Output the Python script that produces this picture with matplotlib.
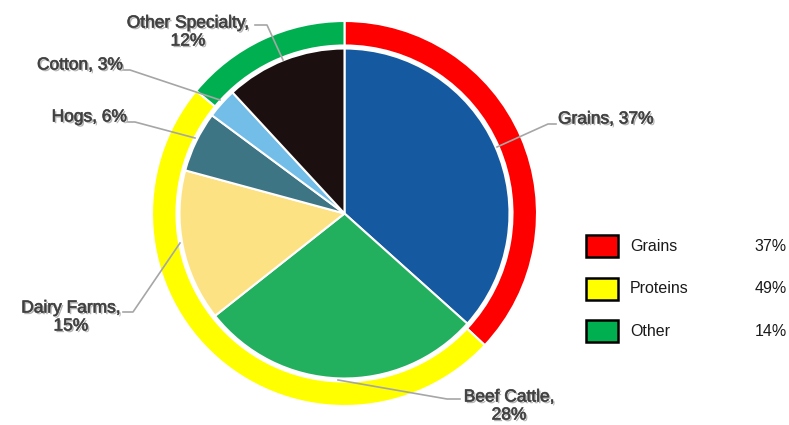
import matplotlib.pyplot as plt
import matplotlib.patheffects as pe
from matplotlib.patches import Rectangle

plt.rcParams['font.family'] = ['Liberation Sans', 'DejaVu Sans']

# Data
segments = ['Grains', 'Beef Cattle', 'Dairy Farms', 'Hogs', 'Cotton', 'Other Specialty']
seg_values = [37, 28, 15, 6, 3, 12]
seg_colors = ['#155AA0', '#22B05F', '#FDE283', '#3E7585', '#72BEE8', '#1C0F10']

groups = ['Grains', 'Proteins', 'Other']
group_values = [37, 49, 14]
group_colors = ['#FF0000', '#FFFF00', '#00B050']

W, H = 789, 425
fig = plt.figure(figsize=(W / 100, H / 100), dpi=100)
ax = fig.add_axes([0, 0, 1, 1])

cx, cy = 344.5, 213.5
r_out, r_ring_in, r_pie = 192.5, 168, 165

# y axis is inverted (pixel coords), so start at -90 and go counterclockwise in data space
ax.pie(group_values, colors=group_colors, startangle=-90, counterclock=True,
       radius=r_out, center=(cx, cy), frame=True,
       wedgeprops=dict(width=r_out - r_ring_in, edgecolor='white', linewidth=1.5))
ax.pie(seg_values, colors=seg_colors, startangle=-90, counterclock=True,
       radius=r_pie, center=(cx, cy), frame=True,
       wedgeprops=dict(edgecolor='white', linewidth=1.5))
ax.set_xlim(0, W)
ax.set_ylim(H, 0)
ax.set_aspect('equal')
ax.axis('off')

# labels and leader lines (pixel layout)
label_layout = {
    'Grains': dict(text_xy=(558, 119), ha='left', two_line=False,
                   line=[(497, 147), (548, 124), (556, 124)]),
    'Beef Cattle': dict(text_xy=(509, 406), ha='center', two_line=True,
                        line=[(338, 380), (447, 399), (460, 399)]),
    'Dairy Farms': dict(text_xy=(71, 317), ha='center', two_line=True,
                        line=[(180, 243), (133, 312), (123, 312)]),
    'Hogs': dict(text_xy=(127, 117), ha='right', two_line=False,
                 line=[(195, 138), (135, 122), (128, 122)]),
    'Cotton': dict(text_xy=(123, 65), ha='right', two_line=False,
                   line=[(220, 100), (130, 70), (124, 70)]),
    'Other Specialty': dict(text_xy=(188, 32), ha='center', two_line=True,
                            line=[(283, 60), (267, 25), (255, 25)]),
}

effects = [pe.SimplePatchShadow(offset=(1.2, -1.2), shadow_rgbFace='#a0a0a0', alpha=0.8),
           pe.withStroke(linewidth=0.5, foreground='#555555')]

for name, val in zip(segments, seg_values):
    lay = label_layout[name]
    xs = [p[0] for p in lay['line']]
    ys = [p[1] for p in lay['line']]
    ax.plot(xs, ys, color='#A6A6A6', lw=1.2, zorder=5)
    sep = ',\n' if lay['two_line'] else ', '
    ax.text(lay['text_xy'][0], lay['text_xy'][1], f'{name}{sep}{val}%',
            ha=lay['ha'], va='center', ma='center', fontsize=12.5,
            color='#404040', linespacing=1.25, zorder=6, path_effects=effects)

# legend
for i, (g, v, c) in enumerate(zip(groups, group_values, group_colors)):
    y = 235 + i * 42.5
    ax.add_patch(Rectangle((586, y), 32, 22, facecolor=c, edgecolor='black',
                           linewidth=1.8, zorder=6))
    ax.text(630, y + 11, g, ha='left', va='center', fontsize=11.5, color='#1a1a1a')
    ax.text(787, y + 11, f'{v}%', ha='right', va='center', fontsize=11.5, color='#1a1a1a')

fig.savefig('out.png', dpi=100)
